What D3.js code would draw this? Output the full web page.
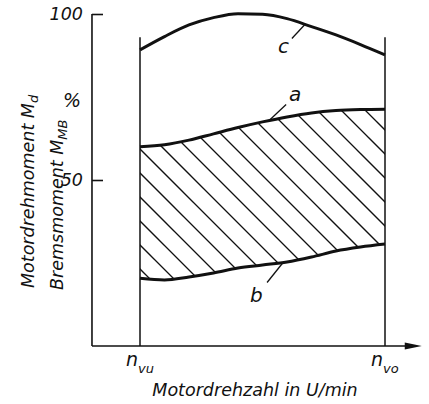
<!DOCTYPE html>
<html>
<head>
<meta charset="utf-8">
<script src="https://cdn.jsdelivr.net/npm/d3@7"></script>
<style>
  body { margin: 0; background: #fff; }
  text { font-family: "DejaVu Sans", sans-serif; font-style: italic; fill: #111; }
</style>
</head>
<body>
<script>
// relative speed between n_vu (0) and n_vo (1)
var speed = [0, 0.1, 0.2, 0.3, 0.4, 0.5, 0.6, 0.7, 0.8, 0.9, 1.0];
// torque in %
var curveA = [60.0, 60.6, 62.0, 63.9, 65.8, 67.5, 69.0, 70.2, 70.9, 71.2, 71.3];
var curveB = [20.4, 19.9, 20.8, 22.0, 23.5, 24.4, 25.3, 26.8, 28.6, 29.8, 30.7];
var curveC = [89.2, 93.2, 96.7, 98.9, 100.1, 99.9, 98.6, 96.2, 93.7, 90.8, 87.7];
var yTicks = [50, 100];
var speedLabels = [{ t: 0, sub: "vu" }, { t: 1, sub: "vo" }];
var curveNames = ["a", "b", "c"];
var leaderAt = [0.527, 0.584, 0.673];
var axisSpan = [-0.196, 1.15];   // x extent of the speed axis
var limitTop = 93;               // top of the n_vu / n_vo lines

var width = 429, height = 404;

var svg = d3.select("body").append("svg")
    .attr("width", width)
    .attr("height", height);

var x = d3.scaleLinear().domain([0, 1]).range([140, 385]);
var y = d3.scaleLinear().domain([0, 100]).range([346, 14]);

var line = d3.line()
    .x(function (d) { return x(d[0]); })
    .y(function (d) { return y(d[1]); })
    .curve(d3.curveMonotoneX);

var band = d3.area()
    .x(function (d) { return x(d.t); })
    .y0(function (d) { return y(d.b); })
    .y1(function (d) { return y(d.a); })
    .curve(d3.curveMonotoneX);

var bandData = speed.map(function (t, i) { return { t: t, a: curveA[i], b: curveB[i] }; });

// hatched field between a and b
svg.append("clipPath").attr("id", "band")
    .append("path").attr("d", band(bandData));

var hatch = svg.append("g").attr("clip-path", "url(#band)");
var yTop = y(80), yBot = y(10);
hatch.selectAll("line")
    .data(d3.range(-7, 12).map(function (k) { return 15 + 24 * k; }))
    .enter().append("line")
    .attr("x1", function (c) { return c + yTop; })
    .attr("y1", yTop)
    .attr("x2", function (c) { return c + yBot; })
    .attr("y2", yBot)
    .attr("stroke", "#111")
    .attr("stroke-width", 1.3);

// speed limits
svg.selectAll(".limit")
    .data(speedLabels)
    .enter().append("line")
    .attr("class", "limit")
    .attr("x1", function (d) { return x(d.t); })
    .attr("x2", function (d) { return x(d.t); })
    .attr("y1", y(limitTop))
    .attr("y2", y(0))
    .attr("stroke", "#111")
    .attr("stroke-width", 1.5);

// axes
svg.append("line")
    .attr("x1", x(axisSpan[0])).attr("x2", x(axisSpan[1]) - 10)
    .attr("y1", y(0)).attr("y2", y(0))
    .attr("stroke", "#111").attr("stroke-width", 1.6);

svg.append("path")
    .attr("d", "M" + x(axisSpan[1]) + "," + y(0) +
        "L" + (x(axisSpan[1]) - 17) + "," + (y(0) - 3.5) +
        "L" + (x(axisSpan[1]) - 17) + "," + (y(0) + 3.5) + "Z")
    .attr("fill", "#111");

svg.append("line")
    .attr("x1", x(axisSpan[0])).attr("x2", x(axisSpan[0]))
    .attr("y1", y(100)).attr("y2", y(0))
    .attr("stroke", "#111").attr("stroke-width", 1.6);

var gY = svg.append("g")
    .attr("transform", "translate(" + x(axisSpan[0]) + ",0)")
    .call(d3.axisLeft(y).tickValues(yTicks).tickSizeInner(-11).tickSizeOuter(0).tickPadding(9));
gY.select(".domain").remove();
gY.selectAll(".tick line").attr("stroke", "#111").attr("stroke-width", 1.6);
gY.selectAll(".tick text")
    .attr("font-family", null)
    .style("font-size", "17.5px")
    .style("font-style", "italic")
    .attr("fill", "#111");

svg.append("text")
    .attr("x", 72).attr("y", y(72))
    .attr("text-anchor", "middle")
    .style("font-size", "19px")
    .text("%");

// curves
[curveA, curveB, curveC].forEach(function (vals) {
    svg.append("path")
        .attr("d", line(speed.map(function (t, i) { return [t, vals[i]]; })))
        .attr("fill", "none")
        .attr("stroke", "#111")
        .attr("stroke-width", 3);
});

// curve labels with leaders
var leaderOff = [[17, -16], [-16, 20], [-13, 14]];
var textOff = [[3, -4], [-17, 20], [-14, 15]];
var curveVals = [curveA, curveB, curveC];
curveNames.forEach(function (name, i) {
    var t = leaderAt[i];
    var v = d3.scaleLinear().domain(speed).range(curveVals[i])(t);
    var px = x(t), py = y(v);
    svg.append("line")
        .attr("x1", px).attr("y1", py)
        .attr("x2", px + leaderOff[i][0]).attr("y2", py + leaderOff[i][1])
        .attr("stroke", "#111").attr("stroke-width", 1.3);
    svg.append("text")
        .attr("x", px + leaderOff[i][0] + textOff[i][0])
        .attr("y", py + leaderOff[i][1] + textOff[i][1])
        .style("font-size", "20px")
        .text(name);
});

// speed labels
speedLabels.forEach(function (d) {
    var t = svg.append("text")
        .attr("x", x(d.t) - 14)
        .attr("y", y(0) + 20)
        .style("font-size", "19px");
    t.append("tspan").text("n");
    t.append("tspan").attr("dy", 7).style("font-size", "13px").text(d.sub);
});

svg.append("text")
    .attr("x", 255).attr("y", 396)
    .attr("text-anchor", "middle")
    .style("font-size", "17.5px")
    .text("Motordrehzahl in U/min");

// rotated y labels
var yl1 = svg.append("text")
    .attr("transform", "translate(34,288) rotate(-90)")
    .style("font-size", "17.5px");
yl1.append("tspan").text("Motordrehmoment M");
yl1.append("tspan").attr("dy", 4).style("font-size", "13px").text("d");

var yl2 = svg.append("text")
    .attr("transform", "translate(63,290) rotate(-90)")
    .style("font-size", "17.5px");
yl2.append("tspan").text("Bremsmoment M");
yl2.append("tspan").attr("dy", 4).style("font-size", "13px").text("MB");
</script>
</body>
</html>
